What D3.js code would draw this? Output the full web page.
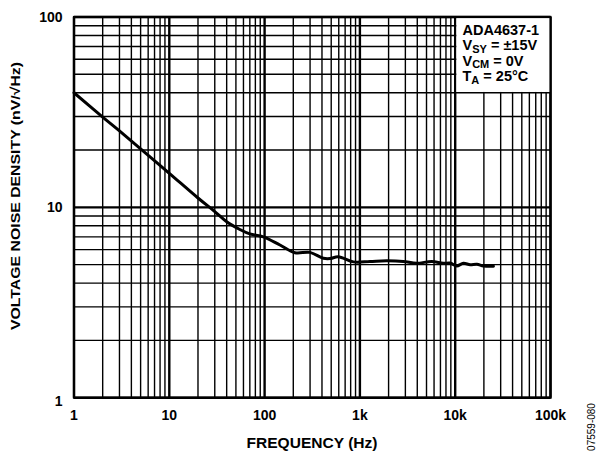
<!DOCTYPE html>
<html><head><meta charset="utf-8">
<script src="https://cdn.jsdelivr.net/npm/d3@7"></script>
<style>body{margin:0;background:#fff}svg{display:block}text{font-family:Arial,"Liberation Sans",Helvetica,sans-serif}</style>
</head><body>
<script>
const freq  = [1, 2, 3, 5, 10, 20, 30, 40, 55, 70, 97, 145, 208, 299, 413, 486, 593, 853, 1276, 1918, 2852, 3945, 5667, 7500, 8847, 10370, 12190, 14350, 16900, 19800, 25200];
const noise = [40, 29.8, 25.2, 20.3, 15.1, 11.2, 9.5, 8.4, 7.65, 7.25, 7.0, 6.34, 5.78, 5.8, 5.4, 5.38, 5.5, 5.17, 5.2, 5.24, 5.2, 5.08, 5.2, 5.08, 5.1, 4.92, 5.08, 5.0, 5.03, 4.92, 4.9];
const xTickVals = [1, 10, 100, 1000, 10000, 100000];
const xTickLabels = ["1", "10", "100", "1k", "10k", "100k"];
const yTickVals = [1, 10, 100];
const yTickLabels = ["1", "10", "100"];

const W = 601, H = 460;
const m = {l: 74, r: 50.5, t: 17, b: 62.3};
const svg = d3.select("body").append("svg").attr("width", W).attr("height", H);
const x = d3.scaleLog().domain([1, 1e5]).range([m.l, W - m.r]);
const y = d3.scaleLog().domain([1, 100]).range([H - m.b, m.t]);

const xg = [], yg = [];
for (let k = 0; k < 5; k++) for (let i = 1; i < 10; i++) xg.push(i * Math.pow(10, k));
xg.push(1e5);
for (let k = 0; k < 2; k++) for (let i = 1; i < 10; i++) yg.push(i * Math.pow(10, k));
yg.push(100);
const isDecade = d => Math.abs(Math.log10(d) - Math.round(Math.log10(d))) < 1e-9;

const g = svg.append("g");
g.selectAll("line.vx").data(xg).join("line")
  .attr("x1", d => x(d)).attr("x2", d => x(d)).attr("y1", y(1)).attr("y2", y(100))
  .attr("stroke", "#000").attr("stroke-width", d => isDecade(d) ? 2.4 : 1.4);
g.selectAll("line.hy").data(yg).join("line")
  .attr("y1", d => y(d)).attr("y2", d => y(d)).attr("x1", x(1)).attr("x2", x(1e5))
  .attr("stroke", "#000").attr("stroke-width", d => isDecade(d) ? 2.4 : 1.4);

// legend background
svg.append("rect").attr("x", x(1e4) + 1.2).attr("y", y(100)).attr("width", x(1e5) - x(1e4) - 1.2)
  .attr("height", y(40) - y(100) - 0.8).attr("fill", "#fff");

const lg = svg.append("g").attr("font-weight", "bold").attr("font-size", 14.5).attr("fill", "#000");
const lx = 462.5;
lg.append("text").attr("x", lx).attr("y", 35).text("ADA4637-1");
const t2 = lg.append("text").attr("x", lx).attr("y", 50);
t2.append("tspan").text("V");
t2.append("tspan").attr("font-size", 11).attr("dy", 2.5).text("SY");
t2.append("tspan").attr("dy", -2.5).text(" = \u00B115V");
const t3 = lg.append("text").attr("x", lx).attr("y", 65.5);
t3.append("tspan").text("V");
t3.append("tspan").attr("font-size", 11).attr("dy", 2.5).text("CM");
t3.append("tspan").attr("dy", -2.5).text(" = 0V");
const t4 = lg.append("text").attr("x", lx).attr("y", 81);
t4.append("tspan").text("T");
t4.append("tspan").attr("font-size", 11).attr("dy", 2.5).text("A");
t4.append("tspan").attr("dy", -2.5).text(" = 25\u00B0C");

// frame
svg.append("rect").attr("x", x(1)).attr("y", y(100)).attr("width", x(1e5) - x(1)).attr("height", y(1) - y(100))
  .attr("fill", "none").attr("stroke", "#000").attr("stroke-width", 2.2);

// curve
const pts = freq.map((f, i) => [f, noise[i]]);
svg.append("path").datum(pts)
  .attr("d", d3.line().x(d => x(d[0])).y(d => y(d[1])).curve(d3.curveCatmullRom.alpha(0.5)))
  .attr("fill", "none").attr("stroke", "#000").attr("stroke-width", 3).attr("stroke-linejoin", "round").attr("stroke-linecap", "round");

// ticks labels
const tl = svg.append("g").attr("font-weight", "bold").attr("font-size", 14).attr("fill", "#000");
tl.selectAll("text.xt").data(xTickVals).join("text")
  .attr("x", d => x(d)).attr("y", 420).attr("text-anchor", "middle").text((d, i) => xTickLabels[i]);
tl.selectAll("text.yt").data(yTickVals).join("text")
  .attr("x", 62.5).attr("y", d => y(d) + 5 + (d === 1 ? 3 : 0)).attr("text-anchor", "end").text((d, i) => yTickLabels[i]);

// axis titles
svg.append("text").attr("x", 312).attr("y", 448).attr("text-anchor", "middle")
  .attr("font-weight", "bold").attr("font-size", 14).attr("textLength", 131).attr("lengthAdjust", "spacingAndGlyphs")
  .text("FREQUENCY (Hz)");
svg.append("text").attr("transform", "translate(20,196) rotate(-90)").attr("text-anchor", "middle")
  .attr("font-weight", "bold").attr("font-size", 13).attr("textLength", 268).attr("lengthAdjust", "spacingAndGlyphs")
  .text("VOLTAGE NOISE DENSITY (nV/\u221AHz)");
svg.append("text").attr("transform", "translate(595,427) rotate(-90)").attr("text-anchor", "middle")
  .attr("font-size", 10).text("07559-080");
</script>
</body></html>
